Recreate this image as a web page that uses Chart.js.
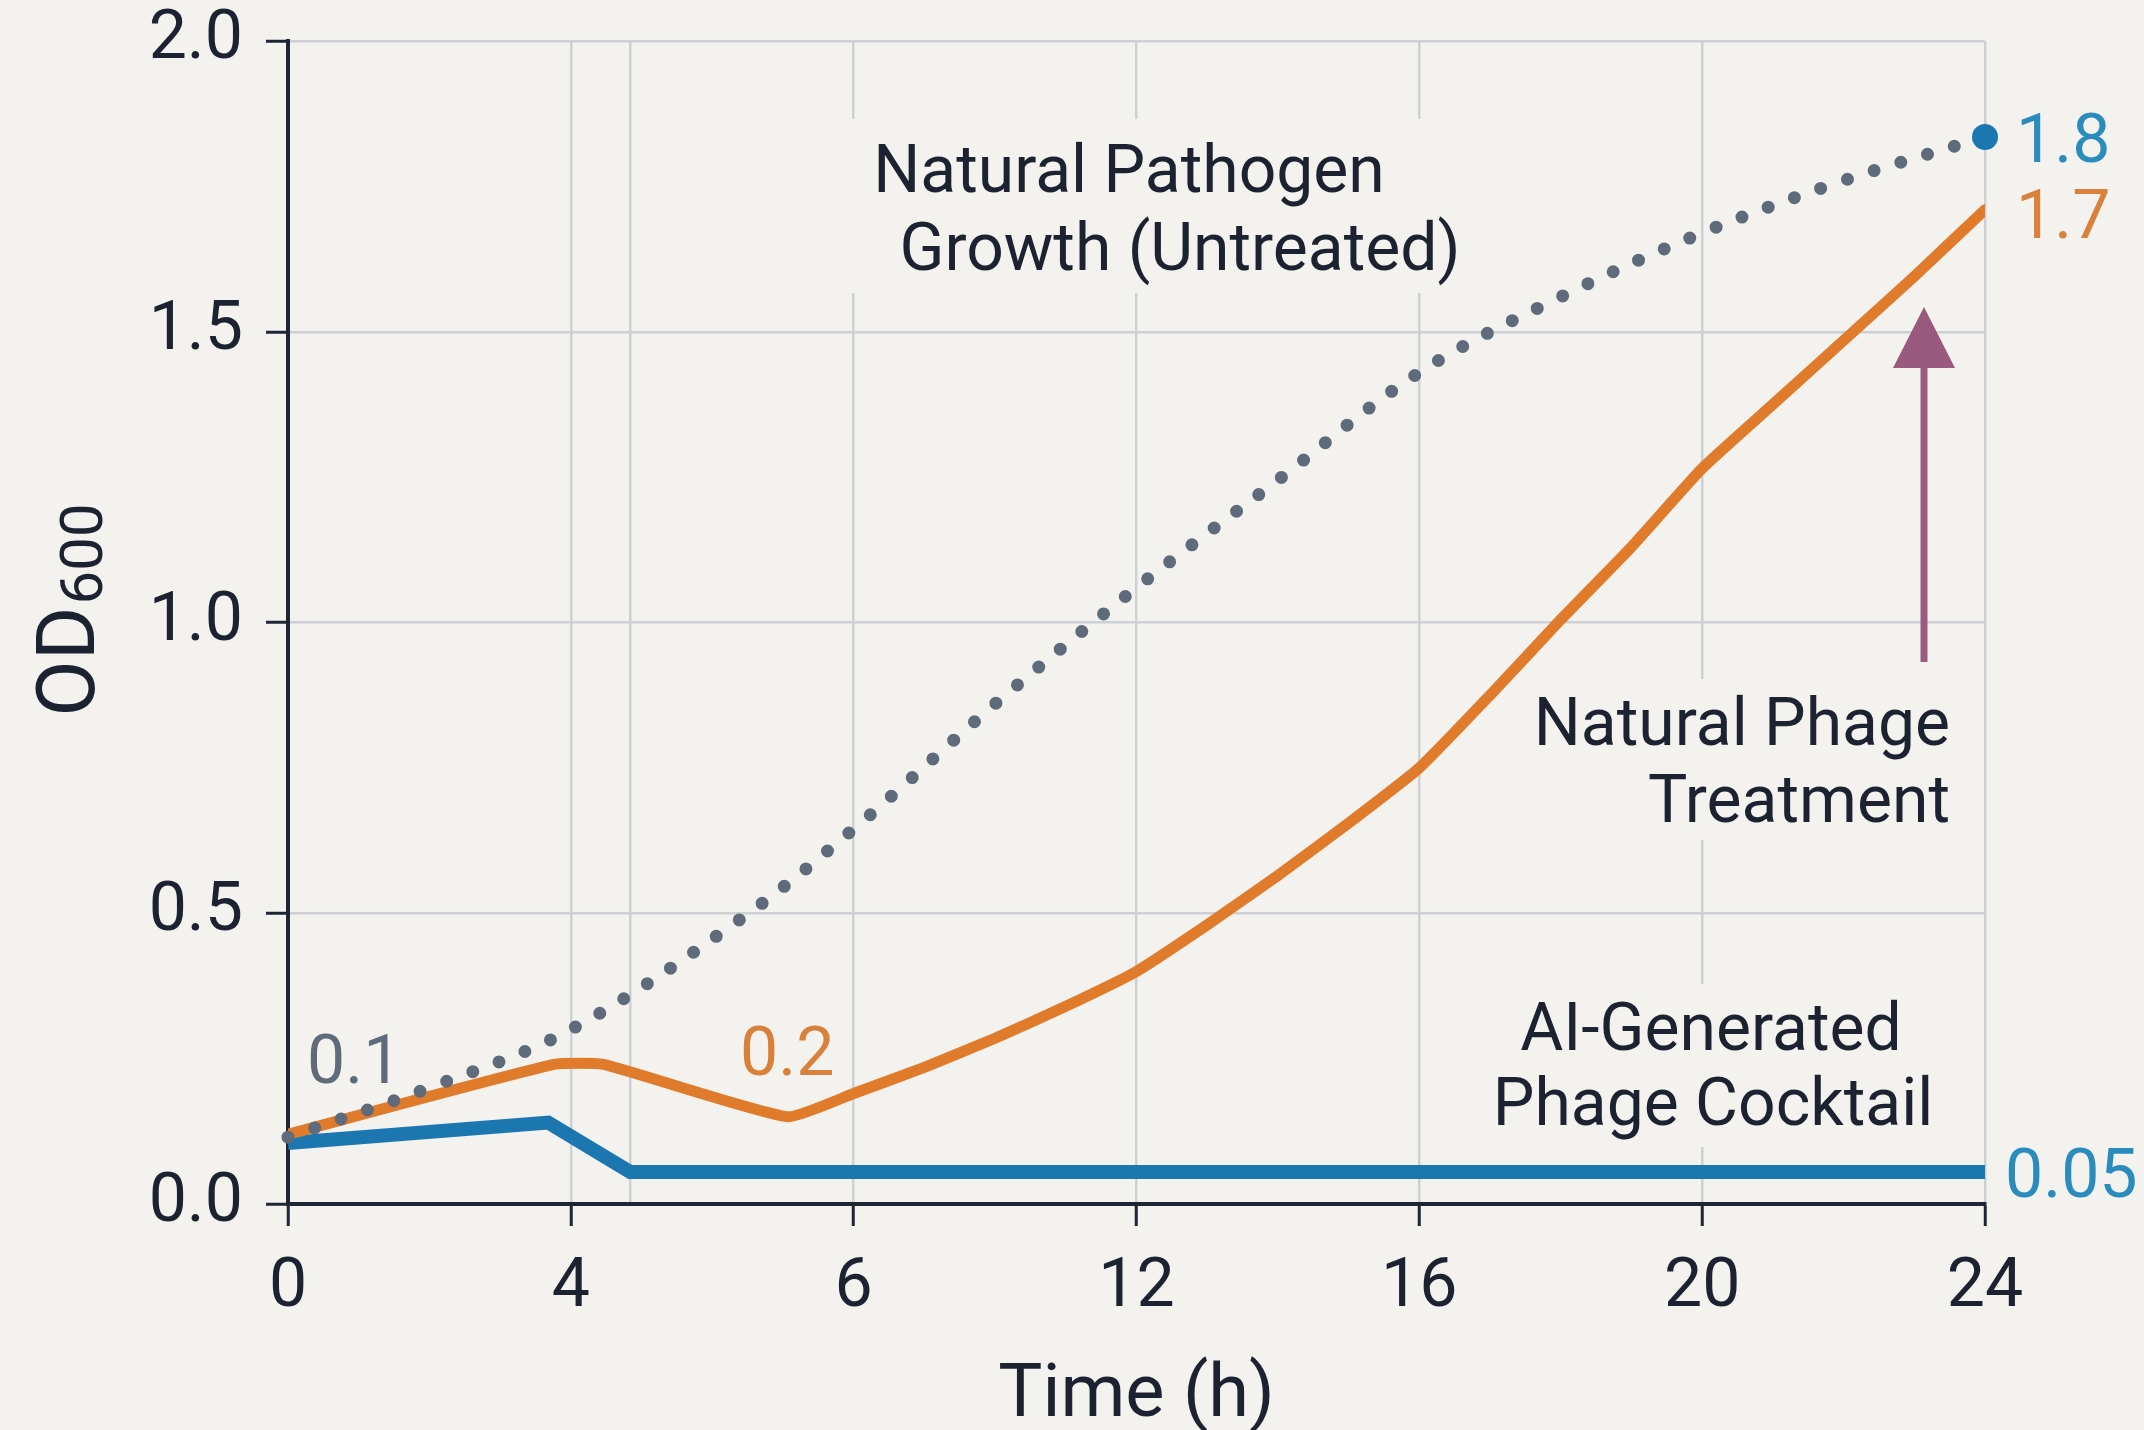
<!DOCTYPE html>
<html>
<head>
<meta charset="utf-8">
<title>OD600 growth curves</title>
<script src="https://cdn.jsdelivr.net/npm/chart.js@4.4.1/dist/chart.umd.min.js"></script>
<style>
    html, body { margin: 0; padding: 0; background: #f3f2ee; }
    #wrap { width: 2144px; height: 1430px; position: relative; }
</style>
</head>
<body>
<div id="wrap"><canvas id="odChart"></canvas></div>
<script>
// Time axis labels (drawn evenly spaced in the figure, hours are not)
const hourTicks = [0, 4, 6, 12, 16, 20, 24];
const odTicks = [0, 0.5, 1.0, 1.5, 2.0];
// extra vertical grid line where the cocktail curve bottoms out
const clearanceHour = 4.42;

// Natural pathogen growth (untreated) - dotted
const untreatedHours = [0, 2, 4, 5.2, 6, 9, 12, 14, 16, 18, 20, 22, 24];
const untreatedOD = [0.115, 0.20, 0.30, 0.49, 0.645, 0.86, 1.06, 1.245, 1.43, 1.56, 1.67, 1.76, 1.835];

// Natural phage treatment - orange
const naturalHours = [0, 3.76, 4.23, 5.53, 6, 7.5, 9, 10.5, 12, 13, 14, 15, 16, 17, 18, 19, 20, 21, 22, 23, 24];
const naturalOD = [0.12, 0.24, 0.24, 0.15, 0.19, 0.235, 0.285, 0.34, 0.40, 0.48, 0.565, 0.655, 0.75, 0.875, 1.005, 1.13, 1.265, 1.375, 1.485, 1.595, 1.71];

// AI-generated phage cocktail - blue
const aiHours = [0, 3.68, 4.42, 24];
const aiOD = [0.105, 0.14, 0.055, 0.055];

const colBg = '#f3f2ee';
const colText = '#1c2230';
const colAxis = '#1e2535';
const colGrid = '#cdd0d4';
const colGray = '#5f6a7a';
const colOrange = '#e07b2c';
const colOrangeText = '#d9813a';
const colBlue = '#1c77b0';
const colBlueText = '#2a8bbd';
const colArrow = '#9a5a7e';
const fontFamily = 'Roboto, sans-serif';

function hourToSlot(h) {
    for (let i = 0; i < hourTicks.length - 1; i++) {
        if (h <= hourTicks[i + 1]) {
            return i + (h - hourTicks[i]) / (hourTicks[i + 1] - hourTicks[i]);
        }
    }
    return hourTicks.length - 1;
}

function toPoints(hours, values) {
    return hours.map((h, i) => ({ x: hourToSlot(h), y: values[i] }));
}

// text boxes, value callouts, arrow and the OD600 axis title
const annotationPlugin = {
    id: 'odAnnotations',
    beforeDatasetsDraw(chart) {
        const ctx = chart.ctx;
        ctx.save();
        const notes = [
            { box: [835, 119, 645, 174], lines: [
                ['Natural Pathogen', 'center', 1129, 192],
                ['Growth (Untreated)', 'center', 1180, 270]] },
            { box: [1515, 679, 450, 161], lines: [
                ['Natural Phage', 'right', 1950, 745],
                ['Treatment', 'right', 1950, 822]] },
            { box: [1480, 984, 470, 163], lines: [
                ['AI-Generated', 'center', 1711, 1050],
                ['Phage Cocktail', 'center', 1713, 1125]] }
        ];
        ctx.font = `400 66px ${fontFamily}`;
        ctx.textBaseline = 'alphabetic';
        notes.forEach(n => {
            ctx.fillStyle = colBg;
            ctx.fillRect(...n.box);
            ctx.fillStyle = colText;
            n.lines.forEach(([text, align, x, y]) => {
                ctx.textAlign = align;
                ctx.fillText(text, x, y);
            });
        });

        // arrow pointing up at the orange curve
        ctx.strokeStyle = colArrow;
        ctx.fillStyle = colArrow;
        ctx.lineWidth = 7;
        ctx.beginPath();
        ctx.moveTo(1924, 662);
        ctx.lineTo(1924, 360);
        ctx.stroke();
        ctx.beginPath();
        ctx.moveTo(1924, 307);
        ctx.lineTo(1955, 368);
        ctx.lineTo(1893, 368);
        ctx.closePath();
        ctx.fill();
        ctx.restore();
    },
    afterDraw(chart) {
        const ctx = chart.ctx;
        const xs = chart.scales.x;
        const ys = chart.scales.y;
        const px = (h) => xs.getPixelForValue(hourToSlot(h));
        const py = (v) => ys.getPixelForValue(v);
        const last = (a) => a[a.length - 1];
        ctx.save();
        ctx.font = `400 68px ${fontFamily}`;
        ctx.textBaseline = 'alphabetic';

        ctx.textAlign = 'left';
        ctx.fillStyle = colGray;
        ctx.fillText('0.1', px(untreatedHours[0]) + 19, py(untreatedOD[0]) - 54);

        ctx.textAlign = 'center';
        ctx.fillStyle = colOrangeText;
        ctx.fillText('0.2', px(naturalHours[3]), py(naturalOD[3]) - 42);

        ctx.textAlign = 'left';
        ctx.fillStyle = colBlueText;
        ctx.fillText('1.8', px(last(untreatedHours)) + 31, py(last(untreatedOD)) + 25);
        ctx.fillStyle = colOrangeText;
        ctx.fillText('1.7', px(last(naturalHours)) + 31, py(last(naturalOD)) + 28);
        ctx.fillStyle = colBlueText;
        ctx.fillText('0.05', px(last(aiHours)) + 20, py(last(aiOD)) + 25);

        // y axis title OD600 with subscript
        ctx.translate(94, 611);
        ctx.rotate(-Math.PI / 2);
        ctx.fillStyle = colText;
        ctx.textAlign = 'left';
        ctx.font = `400 82px ${fontFamily}`;
        const wMain = ctx.measureText('OD').width;
        ctx.font = `400 60px ${fontFamily}`;
        const wSub = ctx.measureText('600').width;
        const start = -(wMain + wSub) / 2;
        ctx.font = `400 82px ${fontFamily}`;
        ctx.fillText('OD', start, 0);
        ctx.font = `400 60px ${fontFamily}`;
        ctx.fillText('600', start + wMain + 2, 8);
        ctx.restore();
    }
};

Chart.defaults.font.family = fontFamily;
Chart.defaults.color = colText;

new Chart(document.getElementById('odChart'), {
    type: 'line',
    data: {
        datasets: [
            {
                label: 'Natural Pathogen Growth (Untreated)',
                data: toPoints(untreatedHours, untreatedOD),
                borderColor: colGray,
                borderWidth: 13,
                borderDash: [0, 28],
                borderCapStyle: 'round',
                tension: 0.35,
                clip: false,
                pointRadius: c => c.dataIndex === untreatedHours.length - 1 ? 13 : 0,
                pointBackgroundColor: colBlue,
                pointBorderWidth: 0
            },
            {
                label: 'Natural Phage Treatment',
                data: toPoints(naturalHours, naturalOD),
                borderColor: colOrange,
                borderWidth: 11,
                borderJoinStyle: 'round',
                borderCapStyle: 'round',
                tension: 0.15,
                pointRadius: 0
            },
            {
                label: 'AI-Generated Phage Cocktail',
                data: toPoints(aiHours, aiOD),
                borderColor: colBlue,
                borderWidth: 14,
                tension: 0,
                pointRadius: 0
            }
        ]
    },
    options: {
        responsive: true,
        maintainAspectRatio: false,
        animation: false,
        layout: { padding: { top: 41, right: 159, left: 0, bottom: 0 } },
        plugins: {
            legend: { display: false },
            tooltip: { enabled: false }
        },
        scales: {
            x: {
                type: 'linear',
                min: 0,
                max: hourTicks.length - 1,
                afterBuildTicks: s => {
                    s.ticks = hourTicks.map((h, i) => ({ value: i }))
                        .concat([{ value: hourToSlot(clearanceHour) }]);
                },
                afterFit: s => { s.height = 226; s.paddingLeft = 0; s.paddingRight = 0; },
                grid: {
                    color: colGrid,
                    lineWidth: 2.5,
                    tickLength: 22,
                    tickWidth: 3,
                    tickColor: c => (c.tick && Number.isInteger(c.tick.value)) ? colAxis : 'rgba(0,0,0,0)'
                },
                border: { color: colAxis, width: 4 },
                ticks: {
                    padding: 22,
                    color: colText,
                    font: { size: 68 },
                    maxRotation: 0,
                    autoSkip: false,
                    callback: v => Number.isInteger(v) ? String(hourTicks[v]) : ''
                },
                title: {
                    display: true,
                    text: 'Time (h)',
                    color: colText,
                    font: { size: 74 },
                    padding: { top: 0, bottom: -12 }
                }
            },
            y: {
                min: 0,
                max: 2,
                afterBuildTicks: s => { s.ticks = odTicks.map(v => ({ value: v })); },
                afterFit: s => { s.width = 288; s.paddingTop = 0; s.paddingBottom = 0; },
                grid: {
                    color: colGrid,
                    lineWidth: 2.5,
                    tickLength: 22,
                    tickWidth: 3,
                    tickColor: colAxis
                },
                border: { color: colAxis, width: 4 },
                ticks: {
                    padding: 23,
                    color: colText,
                    font: { size: 68 },
                    callback: v => v.toFixed(1)
                }
            }
        }
    },
    plugins: [annotationPlugin]
});
</script>
</body>
</html>
